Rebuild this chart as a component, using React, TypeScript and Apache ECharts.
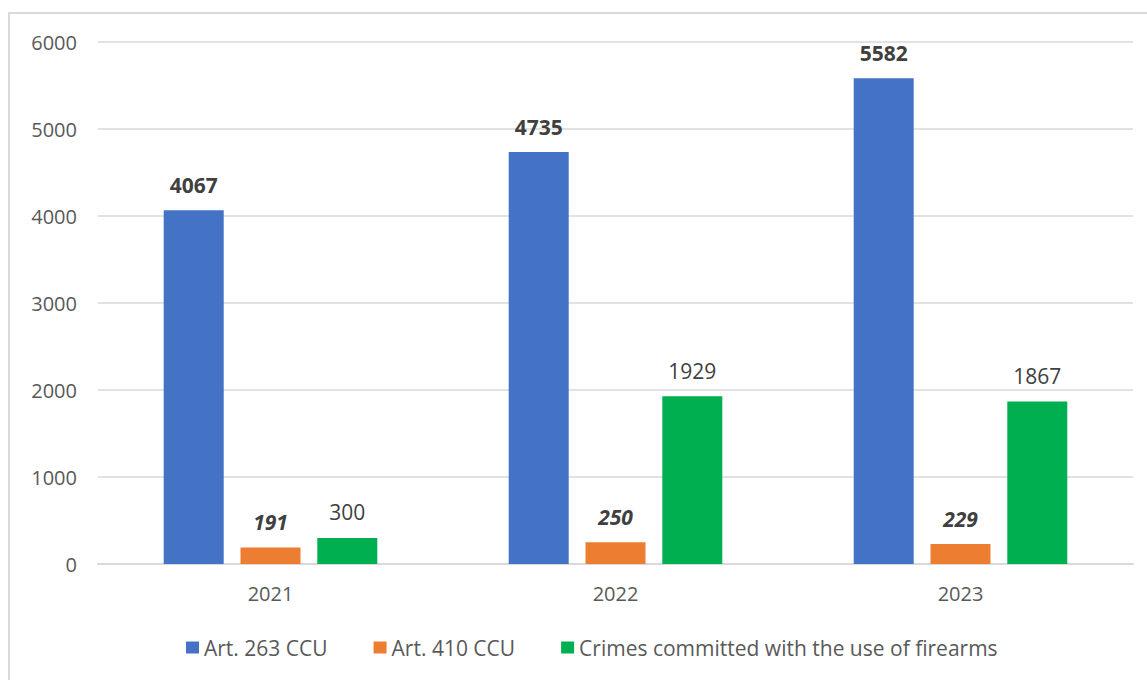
import React, { useEffect, useRef } from "react";
import * as echarts from "echarts";

// Registered offences by year
const years = ["2021", "2022", "2023"];
const seriesNames = [
  "Art. 263 CCU",
  "Art. 410 CCU",
  "Crimes committed with the use of firearms",
];
const art263 = [4067, 4735, 5582];
const art410 = [191, 250, 229];
const firearmsCrimes = [300, 1929, 1867];

const FONT = "'Open Sans', 'Noto Sans', sans-serif";
const TEXT_GREY = "#595959";
const LABEL_DARK = "#404040";

export default function App() {
  const ref = useRef<HTMLDivElement>(null);

  useEffect(() => {
    if (!ref.current) return;
    const chart = echarts.init(ref.current, null, { renderer: "svg" });

    const labelBase = {
      show: true,
      position: "top" as const,
      distance: 15,
      fontFamily: FONT,
      fontSize: 21,
      color: LABEL_DARK,
    };

    chart.setOption({
      animation: false,
      backgroundColor: "#ffffff",
      textStyle: { fontFamily: FONT },
      graphic: [
        {
          type: "rect",
          shape: { x: 9, y: 13, width: 1200, height: 700 },
          style: { fill: "none", stroke: "#D9D9D9", lineWidth: 2 },
          silent: true,
        },
      ],
      grid: { left: 98, right: 14, top: 42, bottom: 116 },
      legend: {
        left: 181,
        top: 632,
        itemWidth: 13,
        itemHeight: 12,
        itemGap: 46,
        icon: "rect",
        textStyle: { fontFamily: FONT, fontSize: 21, color: TEXT_GREY },
        data: seriesNames,
      },
      xAxis: {
        type: "category",
        data: years,
        axisLine: { lineStyle: { color: "#D9D9D9", width: 2 } },
        axisTick: { show: false },
        axisLabel: {
          margin: 19,
          fontFamily: FONT,
          fontSize: 20,
          color: TEXT_GREY,
        },
      },
      yAxis: {
        type: "value",
        min: 0,
        max: 6000,
        interval: 1000,
        axisLine: { show: false },
        axisTick: { show: false },
        splitLine: { lineStyle: { color: "#D9D9D9", width: 1.5 } },
        axisLabel: {
          margin: 21,
          fontFamily: FONT,
          fontSize: 20,
          color: TEXT_GREY,
          formatter: (v: number) => String(v),
        },
      },
      series: [
        {
          name: seriesNames[0],
          type: "bar",
          data: art263,
          barWidth: 60,
          barGap: "28%",
          itemStyle: { color: "#4472C4" },
          label: { ...labelBase, fontWeight: "bold" },
        },
        {
          name: seriesNames[1],
          type: "bar",
          data: art410,
          barWidth: 60,
          barGap: "28%",
          itemStyle: { color: "#ED7D31" },
          label: { ...labelBase, fontWeight: "bold", fontStyle: "italic" },
        },
        {
          name: seriesNames[2],
          type: "bar",
          data: firearmsCrimes,
          barWidth: 60,
          barGap: "28%",
          itemStyle: { color: "#00B050" },
          label: { ...labelBase, fontWeight: "normal" },
        },
      ],
    });

    return () => chart.dispose();
  }, []);

  return (
    <div
      ref={ref}
      style={{ position: "fixed", left: 0, top: 0, width: 1147, height: 680 }}
    />
  );
}
